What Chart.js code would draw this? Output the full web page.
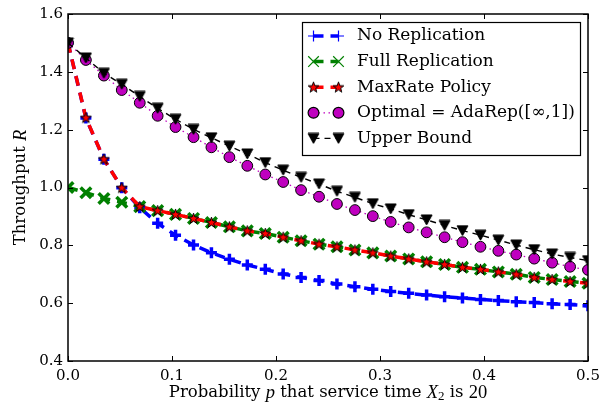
<!DOCTYPE html>
<html>
<head>
<meta charset="utf-8">
<script src="https://cdn.jsdelivr.net/npm/chart.js@4.4.0/dist/chart.umd.min.js"></script>
<style>
  html, body { margin: 0; padding: 0; background: #fff; }
  #wrap { width: 611px; height: 405px; position: relative; }
</style>
</head>
<body>
<div id="wrap"><canvas id="throughputChart"></canvas></div>
<script>
// p grid (probability that X2 is 20)
const pValues = [0, 0.0172, 0.0345, 0.0517, 0.069, 0.0862, 0.1034, 0.1207, 0.1379, 0.1552,
    0.1724, 0.1897, 0.2069, 0.2241, 0.2414, 0.2586, 0.2759, 0.2931, 0.3103, 0.3276,
    0.3448, 0.3621, 0.3793, 0.3966, 0.4138, 0.431, 0.4483, 0.4655, 0.4828, 0.5];

const noReplication = [1.5, 1.24, 1.098, 0.999, 0.93, 0.876, 0.835, 0.801, 0.774, 0.752,
    0.732, 0.717, 0.701, 0.689, 0.678, 0.666, 0.657, 0.648, 0.64, 0.634,
    0.628, 0.622, 0.618, 0.613, 0.609, 0.605, 0.602, 0.598, 0.595, 0.591];

const fullReplication = [1.0, 0.982, 0.962, 0.949, 0.934, 0.92, 0.907, 0.893, 0.879, 0.864,
    0.85, 0.841, 0.828, 0.816, 0.804, 0.795, 0.784, 0.774, 0.763, 0.753,
    0.743, 0.734, 0.724, 0.717, 0.708, 0.7, 0.689, 0.682, 0.675, 0.669];

const maxRatePolicy = [1.5, 1.241, 1.098, 0.999, 0.934, 0.92, 0.907, 0.893, 0.879, 0.864,
    0.85, 0.841, 0.828, 0.816, 0.804, 0.795, 0.784, 0.774, 0.763, 0.753,
    0.743, 0.734, 0.724, 0.717, 0.708, 0.7, 0.689, 0.682, 0.675, 0.669];

const optimalAdaRep = [1.5, 1.441, 1.387, 1.337, 1.293, 1.248, 1.209, 1.174, 1.139, 1.105,
    1.075, 1.045, 1.019, 0.991, 0.968, 0.943, 0.922, 0.901, 0.881, 0.862,
    0.845, 0.828, 0.811, 0.795, 0.781, 0.768, 0.754, 0.74, 0.726, 0.715];

const upperBound = [1.5, 1.448, 1.395, 1.357, 1.315, 1.274, 1.236, 1.201, 1.172, 1.143,
    1.116, 1.086, 1.06, 1.035, 1.012, 0.987, 0.966, 0.944, 0.926, 0.906,
    0.888, 0.869, 0.851, 0.835, 0.818, 0.801, 0.785, 0.77, 0.758, 0.747];

const seriesLabels = ['No Replication', 'Full Replication', 'MaxRate Policy',
    'Optimal = AdaRep([\u221E,1])', 'Upper Bound'];

const xTicks = [0.0, 0.1, 0.2, 0.3, 0.4, 0.5];
const yTicks = [0.4, 0.6, 0.8, 1.0, 1.2, 1.4, 1.6];

const SERIF = "'DejaVu Serif', serif";
const MATH = "'Liberation Serif', serif";

/**
 * Custom marker images (matplotlib-like star and down triangle)
 */
function makeStar() {
    const c = document.createElement('canvas');
    c.width = 13; c.height = 13;
    const g = c.getContext('2d');
    const cx = 6.5, cy = 6.8, ro = 5.6, ri = 2.3;
    g.beginPath();
    for (let k = 0; k < 10; k++) {
        const r = k % 2 === 0 ? ro : ri;
        const a = -Math.PI / 2 + k * Math.PI / 5;
        const px = cx + r * Math.cos(a), py = cy + r * Math.sin(a);
        if (k === 0) g.moveTo(px, py); else g.lineTo(px, py);
    }
    g.closePath();
    g.fillStyle = '#ff0000';
    g.fill();
    g.lineWidth = 1;
    g.strokeStyle = '#000';
    g.stroke();
    return c;
}

function makeTriangleDown() {
    const c = document.createElement('canvas');
    c.width = 13; c.height = 12;
    const g = c.getContext('2d');
    g.beginPath();
    g.moveTo(1, 1);
    g.lineTo(12, 1);
    g.lineTo(6.5, 11);
    g.closePath();
    g.fillStyle = '#000';
    g.fill();
    g.lineWidth = 1;
    g.strokeStyle = '#000';
    g.stroke();
    return c;
}

const starImg = makeStar();
const triImg = makeTriangleDown();

function toPoints(values) {
    return pValues.map((p, i) => ({ x: p, y: values[i] }));
}

/**
 * Frame, inward ticks, axis titles and legend (matplotlib look)
 */
const framePlugin = {
    id: 'frame',
    afterDatasetsDraw(chart) {
        const { ctx, chartArea: a, scales } = chart;
        ctx.save();
        ctx.strokeStyle = '#000';
        ctx.lineWidth = 1;
        const tl = 5;
        ctx.beginPath();
        xTicks.forEach(v => {
            const x = Math.round(scales.x.getPixelForValue(v)) + 0.5;
            ctx.moveTo(x, a.bottom); ctx.lineTo(x, a.bottom - tl);
            ctx.moveTo(x, a.top); ctx.lineTo(x, a.top + tl);
        });
        yTicks.forEach(v => {
            const y = Math.round(scales.y.getPixelForValue(v)) + 0.5;
            ctx.moveTo(a.left, y); ctx.lineTo(a.left + tl, y);
            ctx.moveTo(a.right, y); ctx.lineTo(a.right - tl, y);
        });
        ctx.stroke();
        ctx.lineWidth = 1.5;
        ctx.strokeRect(a.left, a.top, a.right - a.left, a.bottom - a.top);
        ctx.restore();
    },
    afterDraw(chart) {
        const { ctx, chartArea: a } = chart;
        ctx.save();
        ctx.fillStyle = '#000';
        ctx.textBaseline = 'middle';

        // y title
        ctx.save();
        ctx.translate(21, (a.top + a.bottom) / 2);
        ctx.rotate(-Math.PI / 2);
        drawRuns(ctx, [
            { t: 'Throughput ', f: '16.5px ' + SERIF },
            { t: 'R', f: 'italic 18.5px ' + MATH }
        ], 0, 0);
        ctx.restore();

        // x title
        drawRuns(ctx, [
            { t: 'Probability ', f: '16.5px ' + SERIF },
            { t: 'p', f: 'italic 18.5px ' + MATH },
            { t: ' that service time ', f: '16.5px ' + SERIF },
            { t: 'X', f: 'italic 18.5px ' + MATH },
            { t: '2', f: '13px ' + MATH, dy: 4 },
            { t: ' is ', f: '16.5px ' + SERIF },
            { t: '20', f: '18.5px ' + MATH }
        ], (a.left + a.right) / 2, 393);

        // legend
        const lx = 302.5, ly = 22.5, lw = 278, lh = 133;
        ctx.fillStyle = '#fff';
        ctx.fillRect(lx, ly, lw, lh);
        ctx.strokeStyle = '#000';
        ctx.lineWidth = 1.2;
        ctx.strokeRect(lx, ly, lw, lh);

        chart.data.datasets.forEach((ds, i) => {
            const y = 36 + i * 25.6;
            const x1 = 313.5, x2 = 338.5;
            ctx.save();
            ctx.strokeStyle = ds.borderColor;
            ctx.lineWidth = ds.borderWidth;
            ctx.setLineDash(ds.borderDash || []);
            ctx.beginPath();
            ctx.moveTo(x1, y); ctx.lineTo(x2, y);
            ctx.stroke();
            ctx.restore();
            [x1, x2].forEach(mx => {
                ctx.save();
                ctx.fillStyle = ds.pointBackgroundColor;
                ctx.strokeStyle = ds.pointBorderColor;
                Chart.helpers.drawPoint(ctx, {
                    pointStyle: ds.pointStyle,
                    radius: ds.pointRadius,
                    rotation: 0,
                    borderWidth: ds.pointBorderWidth
                }, mx, y);
                ctx.restore();
            });
            ctx.fillStyle = '#000';
            ctx.textAlign = 'left';
            ctx.font = '17px ' + SERIF;
            ctx.fillText(ds.label, 357, y);
        });
        ctx.restore();
    }
};

function drawRuns(ctx, runs, cx, cy) {
    let total = 0;
    runs.forEach(r => { ctx.font = r.f; r.w = ctx.measureText(r.t).width; total += r.w; });
    let x = cx - total / 2;
    ctx.textAlign = 'left';
    runs.forEach(r => {
        ctx.font = r.f;
        ctx.fillText(r.t, x, cy + (r.dy || 0));
        x += r.w;
    });
}

document.addEventListener('DOMContentLoaded', () => {
    const ctx = document.getElementById('throughputChart');
    new Chart(ctx, {
        type: 'line',
        data: {
            datasets: [
                {
                    label: seriesLabels[0],
                    data: toPoints(noReplication),
                    borderColor: '#0000ff',
                    borderWidth: 3.5,
                    borderDash: [10, 7],
                    pointStyle: 'cross',
                    pointRadius: 5.5,
                    pointBorderWidth: 3.5,
                    pointBackgroundColor: '#0000ff',
                    pointBorderColor: '#0000ff',
                    order: 5
                },
                {
                    label: seriesLabels[1],
                    data: toPoints(fullReplication),
                    borderColor: '#008000',
                    borderWidth: 3.5,
                    borderDash: [10, 7],
                    pointStyle: 'crossRot',
                    pointRadius: 7.5,
                    pointBorderWidth: 3.5,
                    pointBackgroundColor: '#008000',
                    pointBorderColor: '#008000',
                    order: 4
                },
                {
                    label: seriesLabels[2],
                    data: toPoints(maxRatePolicy),
                    borderColor: '#ff0000',
                    borderWidth: 3.5,
                    borderDash: [10, 7],
                    pointStyle: starImg,
                    pointRadius: 6,
                    pointBorderWidth: 1,
                    pointBackgroundColor: '#ff0000',
                    pointBorderColor: '#000',
                    order: 3
                },
                {
                    label: seriesLabels[3],
                    data: toPoints(optimalAdaRep),
                    borderColor: '#bf00bf',
                    borderWidth: 1.3,
                    borderDash: [1.5, 3.5],
                    pointStyle: 'circle',
                    pointRadius: 5.4,
                    pointBorderWidth: 1,
                    pointBackgroundColor: '#bf00bf',
                    pointBorderColor: '#000',
                    order: 2
                },
                {
                    label: seriesLabels[4],
                    data: toPoints(upperBound),
                    borderColor: '#000',
                    borderWidth: 1.4,
                    borderDash: [6, 5],
                    pointStyle: triImg,
                    pointRadius: 6,
                    pointBorderWidth: 1,
                    pointBackgroundColor: '#000',
                    pointBorderColor: '#000',
                    order: 1
                }
            ]
        },
        options: {
            responsive: true,
            maintainAspectRatio: false,
            animation: false,
            devicePixelRatio: 1,
            layout: { padding: { top: 14, right: 23, left: 0, bottom: 0 } },
            elements: { line: { tension: 0, fill: false } },
            plugins: {
                legend: { display: false },
                tooltip: { enabled: false }
            },
            scales: {
                x: {
                    type: 'linear',
                    min: 0,
                    max: 0.5,
                    afterFit: s => { s.height = 44; },
                    afterBuildTicks: s => { s.ticks = xTicks.map(v => ({ value: v })); },
                    ticks: {
                        color: '#000',
                        padding: 6,
                        maxRotation: 0,
                        font: { family: SERIF, size: 15 },
                        callback: v => v.toFixed(1)
                    },
                    grid: { display: false, drawTicks: false },
                    border: { display: false }
                },
                y: {
                    type: 'linear',
                    min: 0.4,
                    max: 1.6,
                    afterFit: s => { s.width = 68; },
                    afterBuildTicks: s => { s.ticks = yTicks.map(v => ({ value: v })); },
                    ticks: {
                        color: '#000',
                        padding: 5,
                        font: { family: SERIF, size: 15 },
                        callback: v => v.toFixed(1)
                    },
                    grid: { display: false, drawTicks: false },
                    border: { display: false }
                }
            }
        },
        plugins: [framePlugin]
    });
});
</script>
</body>
</html>
